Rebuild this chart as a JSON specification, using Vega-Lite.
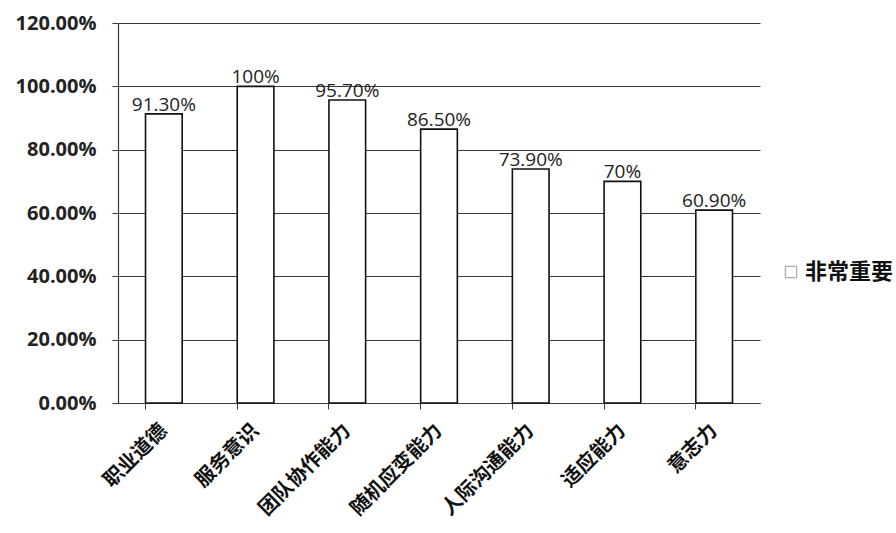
{
  "$schema": "https://vega.github.io/schema/vega-lite/v6.json",
  "width": 642,
  "height": 380,
  "autosize": {"type": "none"},
  "padding": {"left": 118, "top": 23, "right": 136, "bottom": 130},
  "background": "white",
  "data": {
    "values": [
      {"item": "职业道德", "value": 0.913, "label": "91.30%"},
      {"item": "服务意识", "value": 1.0, "label": "100%"},
      {"item": "团队协作能力", "value": 0.957, "label": "95.70%"},
      {"item": "随机应变能力", "value": 0.865, "label": "86.50%"},
      {"item": "人际沟通能力", "value": 0.739, "label": "73.90%"},
      {"item": "适应能力", "value": 0.70, "label": "70%"},
      {"item": "意志力", "value": 0.609, "label": "60.90%"}
    ]
  },
  "config": {
    "view": {"stroke": null},
    "font": "Open Sans"
  },
  "resolve": {"axis": {"x": "independent"}},
  "layer": [
    {
      "mark": {"type": "bar", "stroke": "#111", "strokeWidth": 1.6, "fill": "white"},
      "encoding": {
        "x": {
          "field": "item", "type": "nominal", "sort": null,
          "scale": {"paddingInner": 0.6, "paddingOuter": 0.3},
          "axis": {
            "orient": "bottom", "title": null, "ticks": false, "domain": false,
            "labelAngle": -45, "labelAlign": "right", "labelBaseline": "middle",
            "labelFont": "Noto Sans CJK SC", "labelFontWeight": "bold", "labelFontSize": 20,
            "labelColor": "#111", "labelPadding": 24
          }
        },
        "y": {
          "field": "value", "type": "quantitative",
          "scale": {"domain": [0, 1.2]},
          "axis": {
            "title": null, "format": ".2%", "values": [0, 0.2, 0.4, 0.6, 0.8, 1.0, 1.2],
            "grid": true, "gridColor": "#3a3a3a", "gridWidth": 1,
            "domainColor": "#3a3a3a", "domainWidth": 1.2, "tickColor": "#3a3a3a", "tickSize": 6,
            "labelFont": "Open Sans", "labelFontWeight": "bold", "labelFontSize": 20,
            "labelColor": "#222", "labelPadding": 16
          }
        },
        "color": {
          "datum": "非常重要",
          "scale": {"range": ["white"]},
          "legend": {
            "title": null, "orient": "none", "legendX": 662, "legendY": 238,
            "symbolType": "square", "symbolSize": 130, "symbolStrokeColor": "#999",
            "symbolStrokeWidth": 1, "symbolFillColor": "white",
            "labelFont": "Noto Sans CJK SC", "labelFontWeight": "bold", "labelFontSize": 22,
            "labelColor": "#111", "labelOffset": 3
          }
        }
      }
    },
    {
      "mark": {"type": "text", "baseline": "bottom", "dy": 1, "font": "Open Sans", "fontSize": 19, "color": "#222"},
      "encoding": {
        "x": {
          "field": "item", "type": "nominal", "sort": null, "bandPosition": 0.5,
          "axis": {
            "orient": "bottom", "title": null, "labels": false, "bandPosition": 0,
            "domainColor": "#3a3a3a", "domainWidth": 1.2, "tickColor": "#3a3a3a", "tickSize": 6
          }
        },
        "y": {"field": "value", "type": "quantitative"},
        "text": {"field": "label"}
      }
    }
  ]
}
